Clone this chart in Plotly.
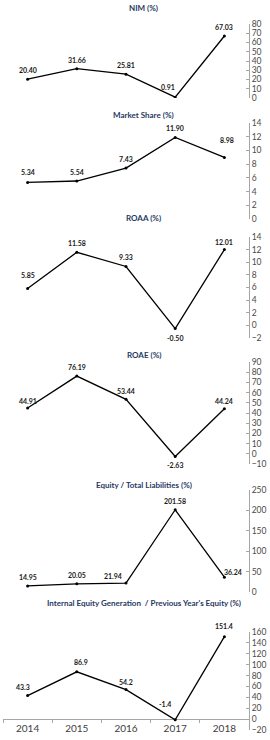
import plotly.graph_objects as go

# ---------------- data ----------------
years = ["2014", "2015", "2016", "2017", "2018"]

titles = [
    "NIM (%)",
    "Market Share (%)",
    "ROAA (%)",
    "ROAE (%)",
    "Equity / Total Liabilities (%)",
    "Internal Equity Generation  / Previous Year's Equity (%)",
]

nim = [20.40, 31.66, 25.81, 0.91, 67.03]
market_share = [5.34, 5.54, 7.43, 11.90, 8.98]
roaa = [5.85, 11.58, 9.33, -0.50, 12.01]
roae = [44.91, 76.19, 53.44, -2.63, 44.24]
equity_tl = [14.95, 20.05, 21.94, 201.58, 36.24]
internal_eq = [43.3, 86.9, 54.2, -1.4, 151.4]

series = [nim, market_share, roaa, roae, equity_tl, internal_eq]
decimals = [2, 2, 2, 2, 2, 1]
y_ranges = [(0, 80), (0, 14), (-2, 14), (-10, 90), (0, 250), (-20, 160)]
y_dticks = [10, 2, 2, 10, 50, 20]

# ---------------- layout helpers (pixels) ----------------
W, H = 270, 740
panel_px = [(24, 98), (123, 219), (237, 338), (362, 464), (490, 592), (632, 730)]
title_px = [8, 115, 218, 355, 485, 603]
# label offsets (dx, dy) in px per point
label_off = [
    [(0, 9), (0, 9), (0, 9), (-7, 10), (0, 9)],
    [(0, 10), (0, 9), (0, 9), (0, 9), (3, 17)],
    [(0, 13), (0, 9), (0, 9), (0, -9), (0, 8)],
    [(0, 7), (0, 9), (0, 8), (0, -9), (0, 8)],
    [(0, 9), (0, 9), (-13, 7), (0, 9), (9, 5)],
    [(-5, 9), (4, 10), (0, 8), (-10, 16), (0, 11)],
]

def py(p):
    return 1 - p / H

TITLE_COLOR = "#1F3864"
AXIS_COLOR = "#A6A6A6"
TICK_FONT = dict(family="Lato", size=8.5, color="#4a4a4a")

fig = go.Figure()
annotations = []
layout = dict(
    width=W, height=H,
    margin=dict(l=3, r=21, t=0, b=0),
    paper_bgcolor="white", plot_bgcolor="white",
    showlegend=False,
    font=dict(family="Lato"),
)

for i, vals in enumerate(series):
    yname = "y" if i == 0 else f"y{i+1}"
    ykey = "yaxis" if i == 0 else f"yaxis{i+1}"
    fig.add_trace(go.Scatter(
        x=years, y=vals, xaxis="x", yaxis=yname,
        mode="lines+markers",
        line=dict(color="black", width=1.3),
        marker=dict(color="black", size=3),
        hoverinfo="skip",
    ))
    top, bot = panel_px[i]
    lo, hi = y_ranges[i]
    layout[ykey] = dict(
        domain=[py(bot), py(top)],
        anchor="x", side="right",
        range=[lo, hi], dtick=y_dticks[i], tick0=lo,
        showline=True, linecolor=AXIS_COLOR, linewidth=1,
        ticks="inside", ticklen=3, tickcolor=AXIS_COLOR,
        showgrid=False, zeroline=False,
        tickfont=TICK_FONT, automargin=False,
        fixedrange=True,
    )
    # title
    annotations.append(dict(
        text=f"<b>{titles[i]}</b>", xref="paper", yref="paper",
        x=0.573, y=py(title_px[i]), xanchor="center", yanchor="middle",
        showarrow=False, font=dict(family="Lato", size=8, color=TITLE_COLOR),
    ))
    # data labels (x given as category index)
    for j, v in enumerate(vals):
        dx, dy = label_off[i][j]
        annotations.append(dict(
            text=f"<b>{v:.{decimals[i]}f}</b>", xref="x", yref=yname,
            x=j, y=v, xshift=dx, yshift=dy,
            xanchor="center", yanchor="middle", showarrow=False,
            font=dict(family="Lato", size=7, color="#1a1a1a"),
        ))

# x-axis drawn at zero of the last panel
lo6, hi6 = y_ranges[5]
d0, d1 = py(panel_px[5][1]), py(panel_px[5][0])
zero_pos = d0 + (0 - lo6) / (hi6 - lo6) * (d1 - d0)
layout["xaxis"] = dict(
    type="category", categoryorder="array", categoryarray=years,
    range=[-0.5, 4.5], domain=[0, 1],
    anchor="free", position=zero_pos,
    showline=True, linecolor=AXIS_COLOR, linewidth=1,
    ticks="outside", tickson="boundaries", ticklen=3, tickcolor=AXIS_COLOR,
    showgrid=False, zeroline=False,
    tickfont=dict(family="Lato", size=10, color="#404040"),
    automargin=False, fixedrange=True,
)
layout["annotations"] = annotations
fig.update_layout(**layout)

fig.write_html(
    "out.html",
    config={"displayModeBar": False},
    post_script="document.body.style.margin='0';document.body.style.padding='0';",
)
